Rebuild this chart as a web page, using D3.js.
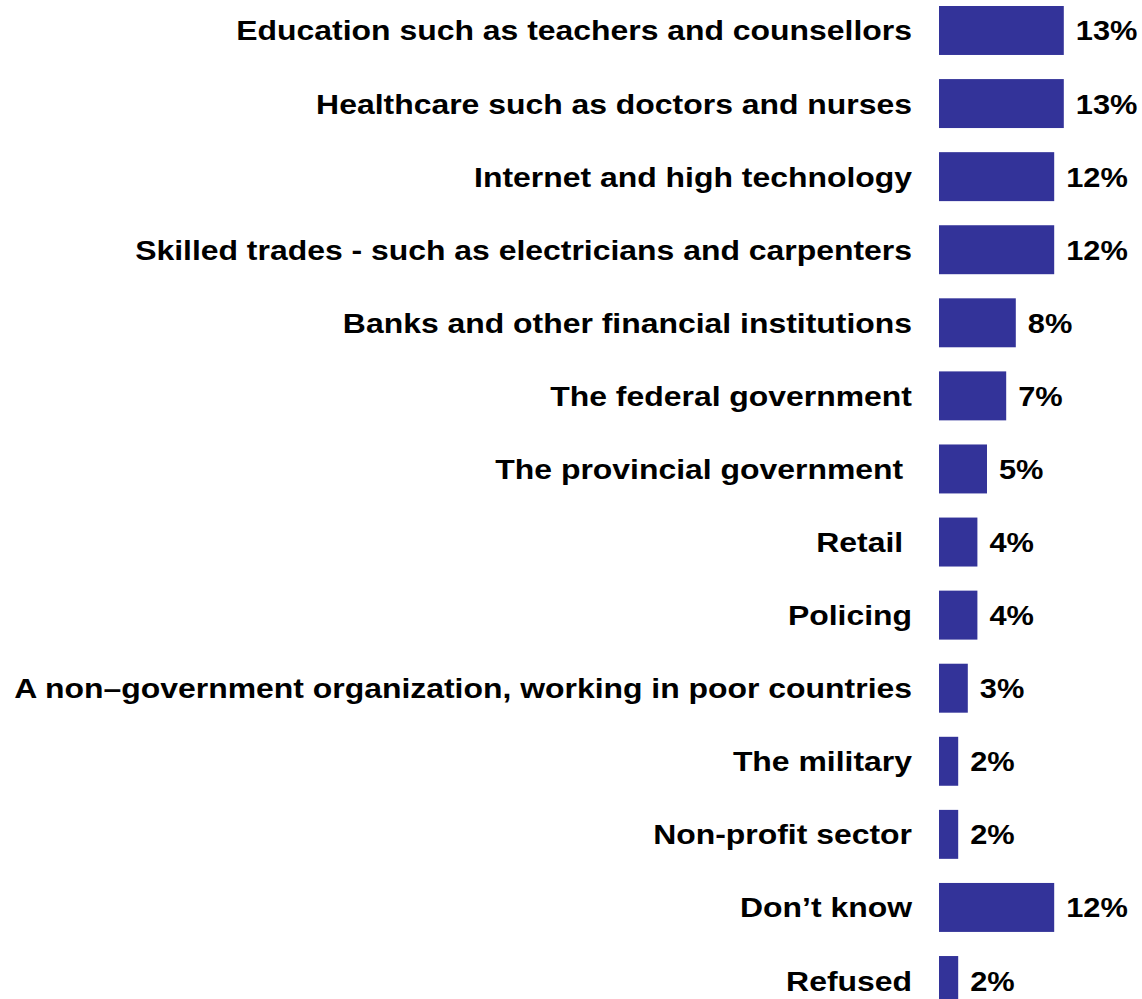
<!DOCTYPE html>
<html>
<head>
<meta charset="utf-8">
<script src="https://cdn.jsdelivr.net/npm/d3@7"></script>
<style>
  html, body { margin: 0; padding: 0; background: #ffffff; }
  svg { display: block; }
  text { font-family: "Liberation Sans", Arial, sans-serif; font-weight: bold; fill: #000; white-space: pre; }
</style>
</head>
<body>
<div id="chart"></div>
<script>
// Sectors where respondents would most like to work (% of respondents)
const categories = [
  "Education such as teachers and counsellors",
  "Healthcare such as doctors and nurses",
  "Internet and high technology",
  "Skilled trades - such as electricians and carpenters",
  "Banks and other financial institutions",
  "The federal government",
  "The provincial government ",
  "Retail ",
  "Policing",
  "A non\u2013government organization, working in poor countries",
  "The military",
  "Non-profit sector",
  "Don\u2019t know",
  "Refused"
];
const values = [13, 13, 12, 12, 8, 7, 5, 4, 4, 3, 2, 2, 12, 2];
const valueLabels = values.map(v => v + "%");

const width = 1142, height = 999;
const barLeft = 939;
const fontSize = 28;
const catStretch = 1.14;   // wide-set lettering for category names
const valStretch = 1.1;

const svg = d3.select("#chart").append("svg")
  .attr("width", width)
  .attr("height", height);

const x = d3.scaleLinear().domain([0, 100]).range([barLeft, barLeft + 960]);
const y = d3.scaleBand()
  .domain(categories)
  .range([6, 1005])
  .paddingInner(0.33)
  .paddingOuter(0);

const rows = svg.selectAll("g.row")
  .data(categories.map((c, i) => ({ c, v: values[i], label: valueLabels[i] })))
  .join("g")
  .attr("class", "row");

rows.append("rect")
  .attr("x", x(0))
  .attr("y", d => y(d.c))
  .attr("width", d => x(d.v) - x(0))
  .attr("height", y.bandwidth())
  .attr("fill", "#333399");

// category labels, right-aligned against the bars
rows.append("text")
  .attr("transform", d => `translate(912,${y(d.c) + y.bandwidth() / 2 + 10}) scale(${catStretch},1)`)
  .attr("text-anchor", "end")
  .attr("font-size", fontSize)
  .text(d => d.c);

// value labels at the end of each bar
rows.append("text")
  .attr("transform", d => `translate(${x(d.v) + 12},${y(d.c) + y.bandwidth() / 2 + 10}) scale(${valStretch},1)`)
  .attr("text-anchor", "start")
  .attr("font-size", fontSize)
  .text(d => d.label);
</script>
</body>
</html>
